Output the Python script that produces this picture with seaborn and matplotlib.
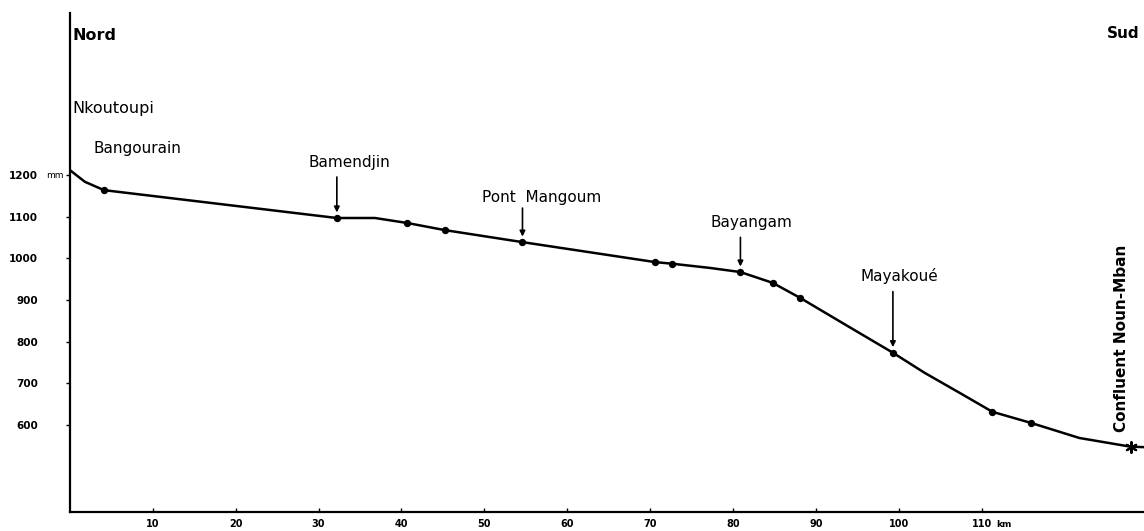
import pandas as pd
import seaborn as sns
import matplotlib.pyplot as plt

# Profil en long : distance (km) et altitude (m)
dist = [0, 1.8, 4.1, 32.2, 36.8, 40.7, 45.2, 54.6, 70.6, 72.7, 77.2, 80.9, 84.8, 88.1,
        93.6, 99.3, 103.1, 107.4, 111.3, 116.0, 121.8, 128.0, 129.6]
alt = [1212, 1184, 1164, 1097, 1097, 1085, 1068, 1039, 991, 987, 977, 967, 941, 905,
       840, 773, 725, 676, 631, 604, 568, 547, 546]

# points cotés sur le profil
pts_dist = [4.1, 32.2, 40.7, 45.2, 54.6, 70.6, 72.7, 80.9, 84.8, 88.1, 99.3, 111.3, 116.0]
pts_alt = [1164, 1097, 1085, 1068, 1039, 991, 987, 967, 941, 905, 773, 631, 604]

# confluent
conf_dist = [128.0]
conf_alt = [547]

# localités
lieux = ["Bangourain", "Bamendjin", "Pont  Mangoum", "Bayangam", "Mayakoué"]
lieux_dist = [4.1, 32.2, 54.6, 80.9, 99.3]
lieux_alt = [1164, 1097, 1039, 967, 773]
fleche = [False, True, True, True, True]

xticks = [10, 20, 30, 40, 50, 60, 70, 80, 90, 100, 110]
xlabels = ["10", "20", "30", "40", "50", "60", "70", "80", "90", "100", "110"]
yticks = [600, 700, 800, 900, 1000, 1100, 1200]
ylabels = ["600", "700", "800", "900", "1000", "1100", "1200"]

sns.set_style("ticks")
plt.rcParams['font.family'] = ['DejaVu Sans']
plt.rcParams['text.color'] = 'black'
plt.rcParams['xtick.color'] = 'black'
plt.rcParams['ytick.color'] = 'black'
plt.rcParams['axes.edgecolor'] = 'black'

profil = pd.DataFrame({'Distance': dist, 'Altitude': alt})
points = pd.DataFrame({'Distance': pts_dist, 'Altitude': pts_alt})

fig = plt.figure(figsize=(11.44, 5.31), dpi=100)
ax = fig.add_axes([70/1144, 19/531, 1074/1144, 499/531])

sns.lineplot(data=profil, x='Distance', y='Altitude', color='black', lw=1.8,
             estimator=None, ax=ax)
sns.scatterplot(data=points, x='Distance', y='Altitude', color='black', s=28,
                edgecolor='black', linewidth=0, zorder=3, ax=ax)
sns.scatterplot(x=conf_dist, y=conf_alt, marker=(6, 2, 0), color='black', s=60,
                edgecolor='black', linewidth=1.5, zorder=3, ax=ax)

ax.set_xlim(0, 129.6)
ax.set_ylim(390, 1590)
ax.set_xlabel('')
ax.set_ylabel('')

ax.set_xticks(xticks)
ax.set_xticklabels(xlabels, fontsize=7, fontweight='bold')
ax.set_yticks(yticks)
ax.set_yticklabels(ylabels, fontsize=7.5, fontweight='bold')
ax.tick_params(axis='x', direction='in', length=3, width=1, pad=5)
ax.tick_params(axis='y', direction='out', length=3, width=1, pad=20)

for s in ['top', 'right']:
    ax.spines[s].set_visible(False)
ax.spines['left'].set_linewidth(1.6)
ax.spines['bottom'].set_linewidth(1.6)

# unités
ax.annotate("mm", xy=(0, 1200), xycoords=('axes fraction', 'data'),
            xytext=(-11, 0), textcoords='offset points', ha='center', va='center',
            fontsize=6.5)
ax.annotate("km", xy=(110, 0), xycoords=('data', 'axes fraction'),
            xytext=(16, -9), textcoords='offset points', ha='center', va='center',
            fontsize=6.5, fontweight='bold')

# noms des localités
decal = [(24, 30), (9, 40), (14, 32), (8, 36), (5, 55)]
longueur = [0, 29.5, 24.5, 25, 44]
for nom, x, y, f, d, L in zip(lieux, lieux_dist, lieux_alt, fleche, decal, longueur):
    ax.annotate(nom, xy=(x, y), xytext=d, textcoords='offset points',
                ha='center', va='center', fontsize=11)
    if f:
        ax.annotate("", xy=(x, y), xytext=(0, L), textcoords='offset points',
                    arrowprops=dict(arrowstyle='-|>', color='black', lw=1.2,
                                    shrinkA=0, shrinkB=4, mutation_scale=8))

fig.text(73/1144, 1 - 35/531, "Nord", fontsize=11.5, fontweight='bold',
         ha='left', va='center')
fig.text(1123/1144, 1 - 33/531, "Sud", fontsize=11, fontweight='bold',
         ha='center', va='center')
fig.text(72/1144, 1 - 108/531, "Nkoutoupi", fontsize=11.5, ha='left', va='center')
fig.text(1122/1144, 1 - 338/531, "Confluent Noun-Mban", fontsize=11,
         fontweight='bold', rotation=90, ha='center', va='center')

plt.savefig("out.png", dpi=100)
